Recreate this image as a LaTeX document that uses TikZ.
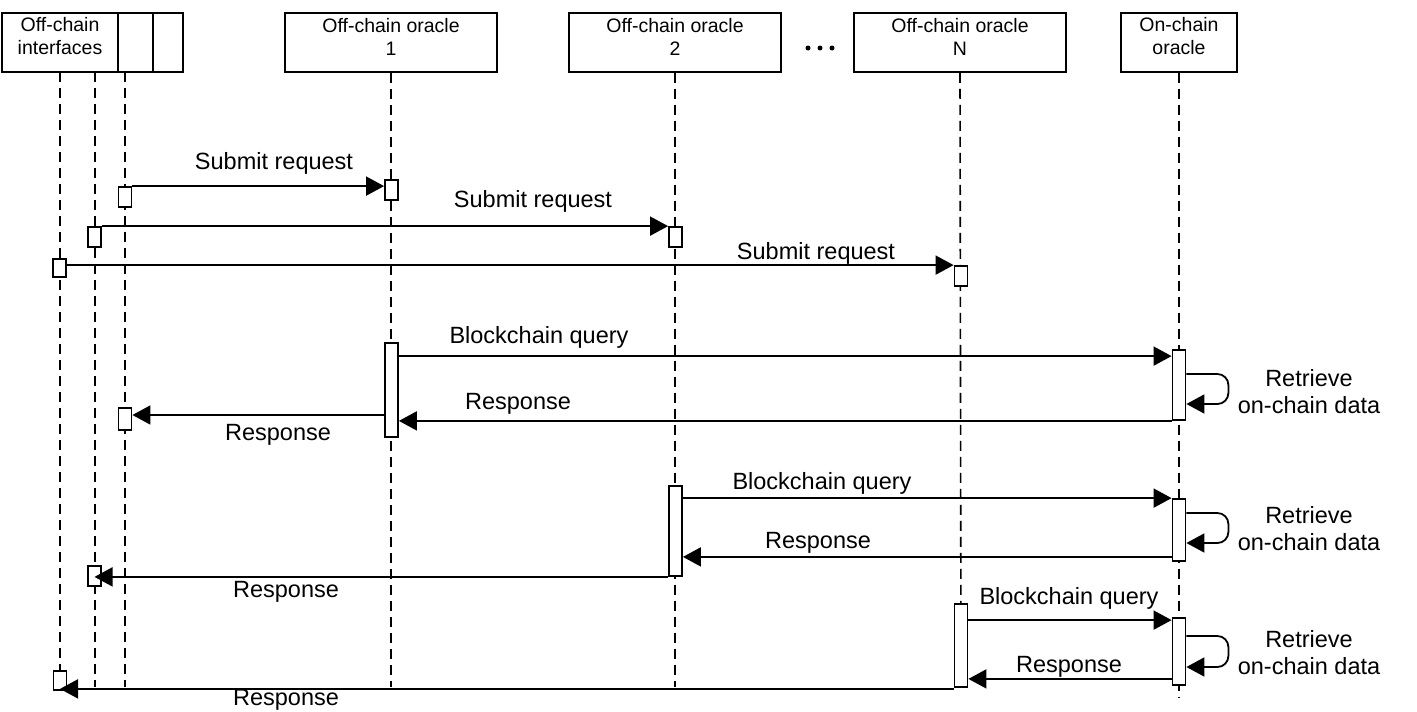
\documentclass[tikz,border=0pt]{standalone}
\usepackage{fontspec}
\setmainfont{Liberation Sans}
\usetikzlibrary{arrows.meta,calc}
\begin{document}
\begin{tikzpicture}[x=1pt,y=-1pt,
  hdr/.style={draw,line width=1.8pt,minimum height=59pt,inner sep=0pt},
  hdrtxt/.style={inner sep=0pt,align=center,font=\fontsize{19.5}{23}\selectfont},
  act/.style={draw,fill=white,line width=1.8pt,minimum width=13pt,inner sep=0pt},
  lifeline/.style={line width=1.6pt,dash pattern=on 10pt off 6pt},
  msg/.style={line width=1.8pt,-{Triangle[length=18pt,width=19pt]}},
  lbl/.style={font=\fontsize{23.5}{27}\selectfont,inner sep=0pt,align=center,yshift=-2pt},
  dotn/.style={circle,fill=black,inner sep=0pt,minimum size=5pt}]
\useasboundingbox (0,0) rectangle (1417,712);
% headers
\node[hdr,minimum width=116pt] (h0) at (60,42.5) {};
\node[hdr,minimum width=35pt] (h0b) at (135.5,42.5) {};
\node[hdr,minimum width=30pt] (h0c) at (168,42.5) {};
\node[hdr,minimum width=212pt] (h1) at (391,42.5) {};
\node[hdr,minimum width=212pt] (h2) at (675,42.5) {};
\node[hdr,minimum width=212pt] (h3) at (960,42.5) {};
\node[hdr,minimum width=116pt] (h4) at (1179,42.5) {};
\node[hdrtxt] (h0t) at ([yshift=6pt]h0.center) {Off-chain\\interfaces};
\node[hdrtxt] (h1t) at ([yshift=6pt]h1.center) {Off-chain oracle\\1};
\node[hdrtxt] (h2t) at ([yshift=6pt]h2.center) {Off-chain oracle\\2};
\node[hdrtxt] (h3t) at ([yshift=6pt]h3.center) {Off-chain oracle\\N};
\node[hdrtxt] (h4t) at ([yshift=6pt]h4.center) {On-chain\\oracle};
\node[dotn] (d1) at (808,48) {};
\node[dotn] (d2) at (820,48) {};
\node[dotn] (d3) at (832,48) {};
% lifelines
\coordinate (l0t) at (60,72);   \coordinate (l0b) at (60,687);
\coordinate (l1t) at (95,72);   \coordinate (l1b) at (95,687);
\coordinate (l2t) at (125,72); \coordinate (l2b) at (125,687);
\coordinate (o1b) at (391,687);
\coordinate (o2b) at (675,687);
\coordinate (o3b) at (961,687);
\coordinate (o4b) at (1179,698);
\draw[lifeline] (l0t) -- (l0b);
\draw[lifeline] (l1t) -- (l1b);
\draw[lifeline] (l2t) -- (l2b);
\draw[lifeline] (h1.south) -- (o1b);
\draw[lifeline] (h2.south) -- (o2b);
\draw[lifeline] (h3.south) -- (o3b);
\draw[lifeline] (h4.south) -- (o4b);
% submit requests
\node[act,minimum height=20pt] (a1) at (125,197) {};
\node[act,minimum height=20pt] (b1) at (391.5,190) {};
\node[act,minimum height=20pt] (a2) at (94.5,237) {};
\node[act,minimum height=20pt] (b2) at (675.5,237) {};
\node[act,minimum height=18pt] (a3) at (59.5,268) {};
\node[act,minimum height=20pt] (b3) at (961,276) {};
\draw[msg] (a1.north east) -- (a1.north east -| b1.west);
\draw[msg] (a2.north east) -- (a2.north east -| b2.west);
\draw[msg] (b3.north west -| a3.east) -- (b3.north west);
\node[lbl] (s1) at (274,161) {Submit request};
\node[lbl] (s2) at (533,199) {Submit request};
\node[lbl] (s3) at (816,251) {Submit request};
% query 1
\node[act,minimum height=94pt] (q1) at (391.5,390) {};
\node[act,minimum height=70pt] (oc1) at (1179,385) {};
\node[act,minimum height=22pt] (r1) at (125,419) {};
\path ([yshift=-7pt]oc1.north west) coordinate (t1);
\draw[msg] (t1 -| q1.east) -- (t1);
\path ([yshift=11pt]oc1.east) coordinate (sl1a);
\path ([yshift=-19pt]oc1.east) coordinate (sl1b);
\draw[msg,rounded corners=11pt] (sl1a) -- ++(42,0) |- (sl1b);
\draw[msg] (oc1.south west) -- (oc1.south west -| q1.east);
\path ([yshift=4pt]r1.east) coordinate (u1);
\draw[msg] (u1 -| q1.west) -- (u1);
\node[lbl] (bq1) at (539,335) {Blockchain query};
\node[lbl] (rt1) at (1309,390) {Retrieve\\on-chain data};
\node[lbl] (rs1) at (518,402) {Response};
\node[lbl] (rs1b) at (278,433) {Response};
% query 2
\node[act,minimum height=90pt] (q2) at (675.5,531) {};
\node[act,minimum height=62pt] (oc2) at (1179,530) {};
\node[act,minimum height=20pt] (r2) at (94.5,576) {};
\draw[msg] (oc2.north west -| q2.east) -- (oc2.north west);
\path ([yshift=17pt]oc2.east) coordinate (sl2a);
\path ([yshift=-13pt]oc2.east) coordinate (sl2b);
\draw[msg,rounded corners=11pt] (sl2a) -- ++(42,0) |- (sl2b);
\path ([yshift=5pt]oc2.south west) coordinate (t2);
\draw[msg] (t2) -- (t2 -| q2.east);
\path (q2.south west) coordinate (u2);
\draw[msg] (u2) -- (u2 -| r2.center);
\node[lbl] (bq2) at (822,481) {Blockchain query};
\node[lbl] (rt2) at (1309,527) {Retrieve\\on-chain data};
\node[lbl] (rs2) at (818,541) {Response};
\node[lbl] (rs2b) at (286,590) {Response};
% query 3
\node[act,minimum height=83pt] (q3) at (961,645.5) {};
\node[act,minimum height=67pt] (oc3) at (1179,651.5) {};
\node[act,minimum height=19pt] (r3) at (60,680.5) {};
\path ([yshift=-3pt]oc3.north west) coordinate (t3);
\draw[msg] (t3 -| q3.east) -- (t3);
\path ([yshift=15.5pt]oc3.east) coordinate (sl3a);
\path ([yshift=-15.5pt]oc3.east) coordinate (sl3b);
\draw[msg,rounded corners=11pt] (sl3a) -- ++(42,0) |- (sl3b);
\path ([yshift=7pt]oc3.south west) coordinate (t3b);
\draw[msg] (t3b) -- (t3b -| q3.east);
\path ([yshift=-1pt]q3.south west) coordinate (u3);
\draw[msg] (u3) -- (u3 -| r3.center);
\node[lbl] (bq3) at (1069,596) {Blockchain query};
\node[lbl] (rt3) at (1309,651) {Retrieve\\on-chain data};
\node[lbl] (rs3) at (1069,665) {Response};
\node[lbl] (rs3b) at (286,698) {Response};
\end{tikzpicture}
\end{document}
